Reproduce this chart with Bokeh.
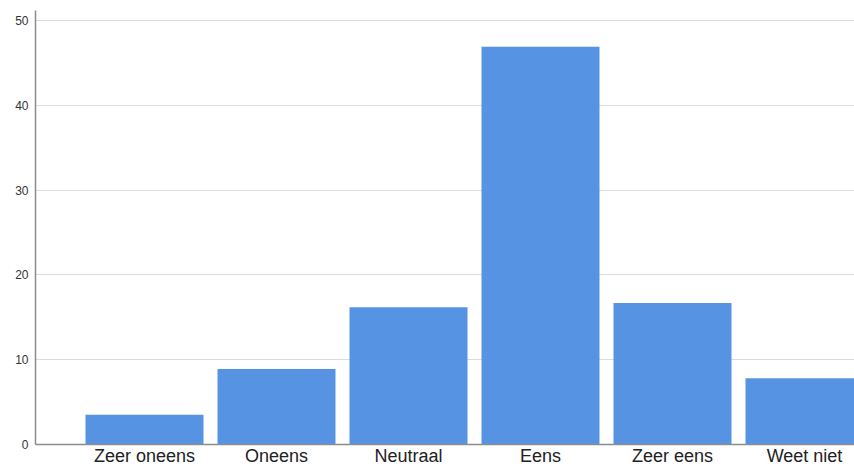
from bokeh.plotting import figure
from bokeh.models import Range1d, FixedTicker, ColumnDataSource
from bokeh.embed import file_html
from bokeh.resources import INLINE

categories = ["Zeer oneens", "Oneens", "Neutraal", "Eens", "Zeer eens", "Weet niet"]
values = [3.5, 8.9, 16.2, 46.9, 16.7, 7.8]
y_ticks = [0, 10, 20, 30, 40, 50]

positions = list(range(len(categories)))
src = ColumnDataSource(dict(x=positions, top=values))

W, H = 854, 468
LEFT, TOP, BOTTOM = 35, 10, 23
px_per_cat = 132.0
x_start = (LEFT - 144) / px_per_cat
x_end = x_start + (W - LEFT) / px_per_cat

p = figure(width=W, height=H, output_backend="svg", toolbar_location=None,
           x_range=Range1d(x_start, x_end), y_range=Range1d(0, 51.18),
           min_border_left=LEFT, min_border_right=0, min_border_top=TOP,
           min_border_bottom=BOTTOM)
p.outline_line_color = None
p.background_fill_color = "white"

p.vbar(x="x", top="top", bottom=0, width=0.894, source=src,
       fill_color="#5694E3", line_color=None)

p.xgrid.visible = False
p.ygrid.ticker = FixedTicker(ticks=y_ticks)
p.ygrid.grid_line_color = "#dcdcdc"
p.ygrid.grid_line_width = 1

p.yaxis.ticker = FixedTicker(ticks=y_ticks)
p.yaxis.axis_line_color = "#8c8c8c"
p.yaxis.axis_line_width = 1.5
p.yaxis.major_tick_line_color = None
p.yaxis.minor_tick_line_color = None
p.yaxis.major_tick_out = 0
p.yaxis.major_label_standoff = 7
p.yaxis.major_label_text_font = "Liberation Sans"
p.yaxis.major_label_text_font_size = "12px"
p.yaxis.major_label_text_color = "#333333"

p.xaxis.ticker = FixedTicker(ticks=positions)
p.xaxis.major_label_overrides = {i: c for i, c in zip(positions, categories)}
p.xaxis.axis_line_color = "#8c8c8c"
p.xaxis.axis_line_width = 1.5
p.xaxis.major_tick_line_color = None
p.xaxis.minor_tick_line_color = None
p.xaxis.major_tick_out = 0
p.xaxis.major_tick_in = 0
p.xaxis.major_label_standoff = 1
p.xaxis.major_label_text_font = "Liberation Sans"
p.xaxis.major_label_text_font_size = "18px"
p.xaxis.major_label_text_color = "#222222"

open("out.html", "w").write(file_html(p, INLINE))
